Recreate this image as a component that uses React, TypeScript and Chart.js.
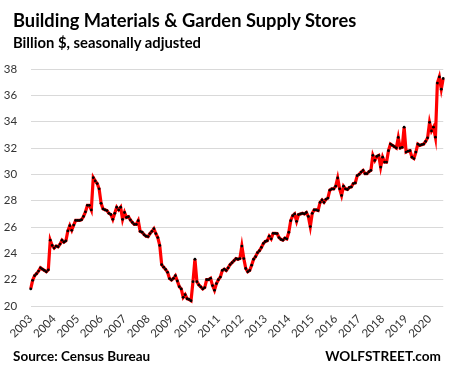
import React, { useEffect, useRef } from "react";
import { Chart, registerables } from "chart.js";

Chart.register(...registerables);

// ---- data (billion $, seasonally adjusted, monthly Jan 2003 - Aug 2020) ----
const years = [
  "2003", "2004", "2005", "2006", "2007", "2008", "2009", "2010", "2011",
  "2012", "2013", "2014", "2015", "2016", "2017", "2018", "2019", "2020",
];

const s2003 = [21.3, 21.95, 22.3, 22.45, 22.65, 22.9, 22.8, 22.7, 22.6, 22.75, 25.0, 24.6];
const s2004 = [24.4, 24.55, 24.5, 24.7, 25.0, 24.85, 24.95, 25.7, 26.1, 25.75, 26.15, 26.5];
const s2005 = [26.5, 26.5, 26.55, 26.8, 27.15, 27.65, 27.65, 27.3, 29.75, 29.5, 29.3, 28.9];
const s2006 = [27.8, 27.37, 27.3, 27.25, 27.04, 26.95, 26.58, 27.04, 27.5, 27.3, 27.5, 26.58];
const s2007 = [27.1, 26.73, 26.78, 26.53, 26.35, 26.2, 26.2, 26.48, 25.67, 25.6, 25.42, 25.3];
const s2008 = [25.27, 25.5, 25.67, 25.87, 25.5, 25.2, 24.6, 23.14, 22.95, 22.78, 22.56, 22.08];
const s2009 = [21.97, 22.1, 22.3, 21.9, 21.47, 21.3, 20.66, 20.86, 20.55, 20.5, 20.4, 21.85];
const s2010 = [23.55, 21.85, 21.6, 21.45, 21.3, 21.4, 22.0, 22.0, 22.1, 21.55, 21.2, 21.7];
const s2011 = [22.0, 22.2, 22.7, 22.8, 22.7, 22.9, 23.15, 23.3, 23.45, 23.6, 23.55, 23.6];
const s2012 = [24.55, 23.6, 22.85, 22.6, 22.7, 23.1, 23.55, 23.75, 24.05, 24.2, 24.45, 24.75];
const s2013 = [24.9, 24.96, 25.3, 25.1, 25.52, 25.52, 25.5, 25.2, 25.06, 25.0, 25.15, 25.1];
const s2014 = [25.6, 26.48, 26.86, 26.99, 26.43, 26.94, 26.99, 27.04, 26.99, 27.1, 26.8, 26.03];
const s2015 = [27.04, 27.3, 27.3, 27.25, 27.87, 28.05, 27.87, 28.1, 28.2, 28.8, 28.89, 28.89];
const s2016 = [29.1, 29.72, 28.9, 28.4, 29.1, 28.9, 28.85, 29.0, 29.04, 29.3, 29.35, 29.9];
const s2017 = [30.0, 30.17, 30.3, 30.05, 30.05, 30.2, 30.3, 31.44, 31.06, 31.36, 31.44, 30.55];
const s2018 = [31.3, 30.93, 30.93, 31.8, 32.3, 32.2, 32.1, 32.0, 32.8, 32.0, 32.05, 33.58];
const s2019 = [31.69, 31.76, 31.8, 31.3, 31.2, 31.69, 32.3, 32.2, 32.25, 32.3, 32.5, 32.77];
const s2020 = [33.95, 33.3, 33.58, 32.82, 36.93, 37.4, 36.47, 37.28];

const yearSeries = [
  s2003, s2004, s2005, s2006, s2007, s2008, s2009, s2010, s2011,
  s2012, s2013, s2014, s2015, s2016, s2017, s2018, s2019, s2020,
];

const yMin = 20;
const yMax = 38;
const yStep = 2;

const title = "Building Materials & Garden Supply Stores";
const subtitle = "Billion $, seasonally adjusted";
const sourceText = "Source: Census Bureau";
const brandText = "WOLFSTREET.com";

export default function App() {
  const canvasRef = useRef<HTMLCanvasElement | null>(null);

  useEffect(() => {
    const canvas = canvasRef.current;
    if (!canvas) return;

    const values: number[] = [];
    const labels: string[] = [];
    yearSeries.forEach((arr, yi) => {
      arr.forEach((v) => {
        values.push(v);
        labels.push(years[yi]);
      });
    });

    const chart = new Chart(canvas, {
      type: "line",
      data: {
        labels,
        datasets: [
          {
            data: values,
            borderColor: "#ff0000",
            borderWidth: 3.2,
            pointRadius: 1.4,
            pointBackgroundColor: "#000000",
            pointBorderWidth: 0,
            pointHoverRadius: 0,
            tension: 0,
            fill: false,
          },
        ],
      },
      options: {
        animation: false,
        responsive: false,
        devicePixelRatio: 1,
        events: [],
        layout: { padding: { left: 0, right: 11.3, top: 69, bottom: 0 } },
        plugins: {
          legend: { display: false },
          tooltip: { enabled: false },
          title: { display: false },
        },
        scales: {
          x: {
            type: "category",
            offset: false,
            grid: { display: false, drawTicks: false },
            border: { display: false },
            ticks: {
              autoSkip: false,
              minRotation: 45,
              maxRotation: 45,
              padding: 6,
              color: "#333333",
              font: { family: "Lato", size: 11.5 },
              callback: function (this: any, value: any, index: number) {
                return index % 12 === 0 ? this.getLabelForValue(value) : "";
              },
            },
            afterFit: (scale: any) => {
              scale.height = 66;
            },
          },
          y: {
            min: yMin,
            max: yMax,
            grid: { color: "#d9d9d9", lineWidth: 1, drawTicks: false },
            border: { display: false },
            ticks: {
              stepSize: yStep,
              padding: 13.5,
              color: "#333333",
              font: { family: "Lato", size: 11.5 },
            },
            afterFit: (scale: any) => {
              scale.width = 30.7;
            },
          },
        },
      },
    });

    return () => {
      chart.destroy();
    };
  }, []);

  const base: React.CSSProperties = {
    position: "absolute",
    fontFamily: "Lato, 'Open Sans', sans-serif",
    fontWeight: 700,
    color: "#000",
    whiteSpace: "nowrap",
    margin: 0,
  };

  return (
    <div
      style={{
        position: "fixed",
        left: 0,
        top: 0,
        width: 459,
        height: 372,
        background: "#ffffff",
        overflow: "hidden",
      }}
    >
      <canvas
        ref={canvasRef}
        width={459}
        height={372}
        style={{ position: "absolute", left: 0, top: 0, width: 459, height: 372 }}
      />
      <div style={{ ...base, left: 13, top: 10.5, fontSize: 18.3, lineHeight: "18.3px" }}>{title}</div>
      <div style={{ ...base, left: 13, top: 34.6, fontSize: 14.8, lineHeight: "14.8px" }}>{subtitle}</div>
      <div style={{ ...base, left: 13, top: 349.7, fontSize: 13.5, lineHeight: "13.5px" }}>{sourceText}</div>
      <div style={{ ...base, right: 18, top: 349.7, fontSize: 13.6, lineHeight: "13.6px" }}>{brandText}</div>
    </div>
  );
}
